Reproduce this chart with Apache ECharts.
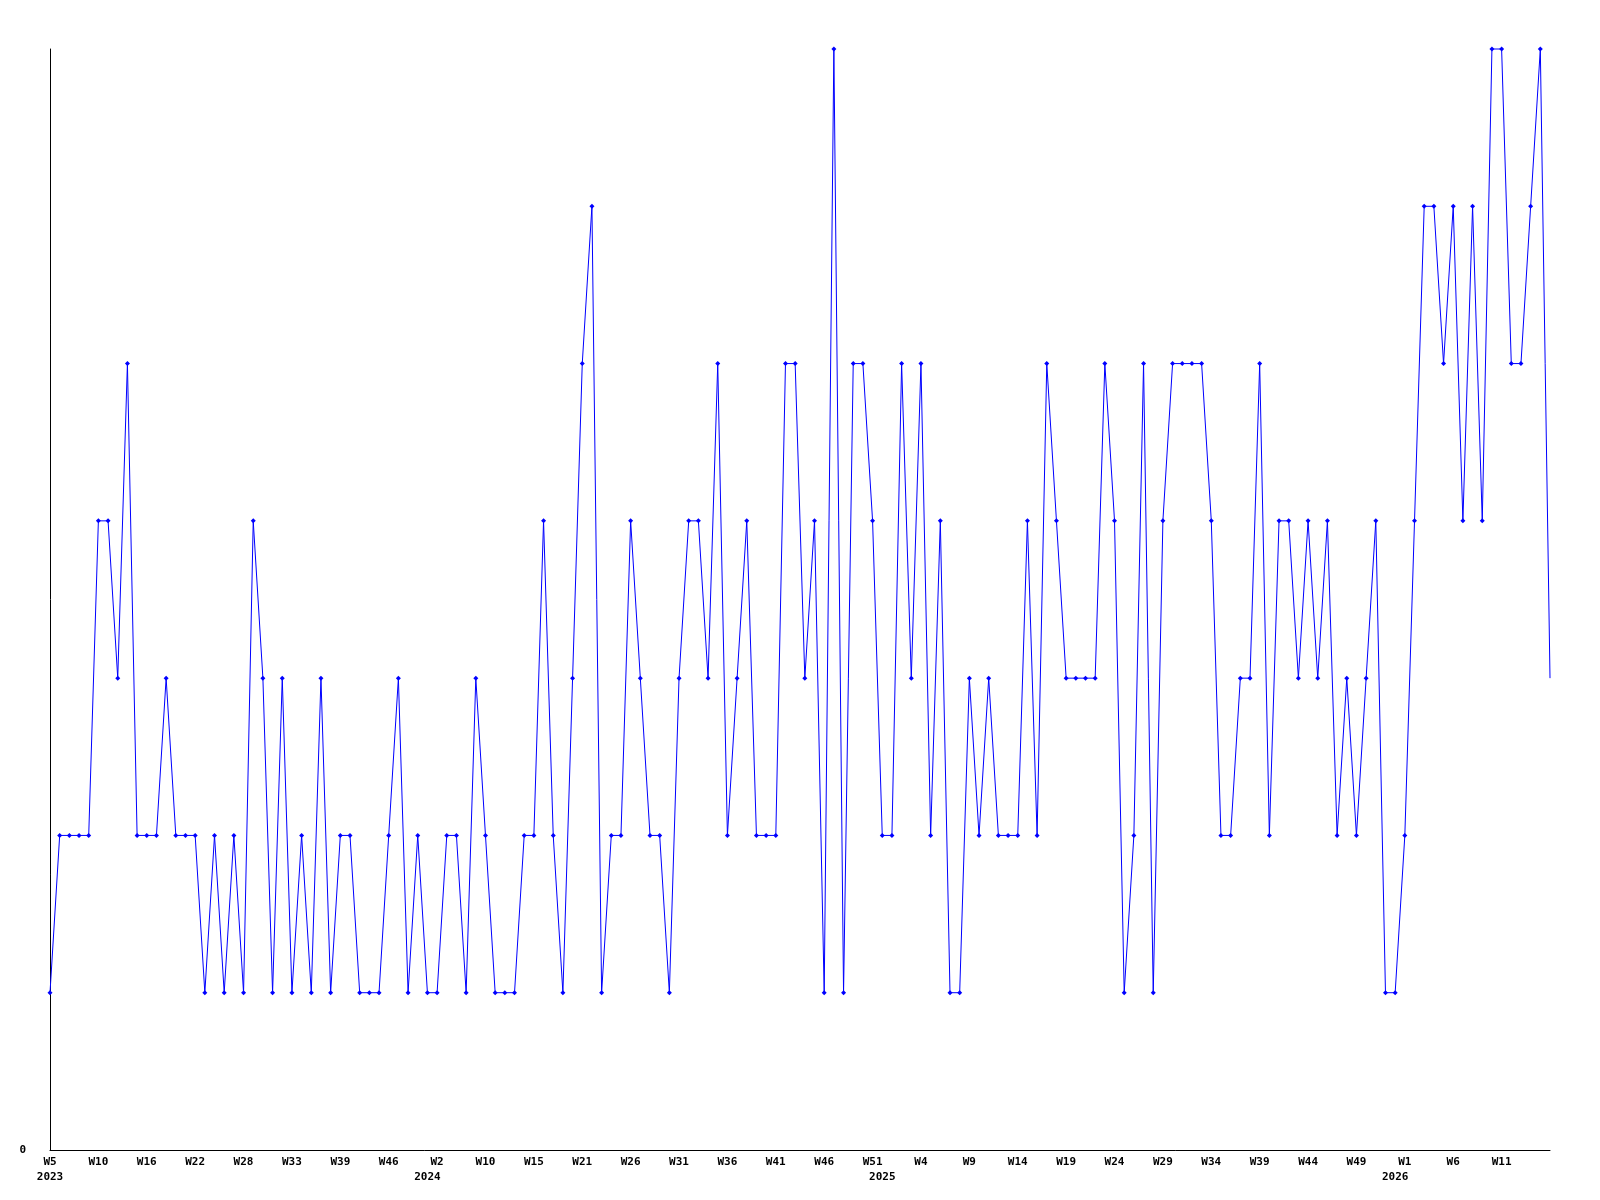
<!DOCTYPE html>
<html>
<head>
<meta charset="utf-8">
<style>
  html, body { margin: 0; padding: 0; background: #ffffff; }
  #chart { width: 1600px; height: 1200px; }
</style>
<script src="https://cdn.jsdelivr.net/npm/echarts@6/dist/echarts.min.js"></script>
</head>
<body>
<div id="chart"></div>
<script>
// Week numbers per year present in the data (some weeks absent)
const weeks2023 = [5,6,7,8,9,10,11,12,13,14,16,17,18,19,20,22,23,24,25,26,28,29,30,31,32,33,34,35,36,37,39,40,41,42,44,46,47,48,50];
const weeks2024 = [1,2,3,5,7,8,10,11,12,13,14,15,16,17,18,20,21,22,23,24,25,26,27,28,29,30,31,32,33,34,35,36,37,38,39,40,41,42,43,44,45,46,47,48,49,50,51];
const weeks2025 = [0,1,2,3,4,5,6,7,8,9,10,11,12,13,14,15,16,17,18,19,20,21,22,23,24,25,26,27,28,29,30,31,32,33,34,35,36,37,38,39,40,41,42,43,44,45,46,47,48,49,50,51,52];
const weeks2026 = [0,1,2,3,4,5,6,7,8,9,10,11,12,13,14,15,16];

// Series values (one per category)
const values = [
  1,2,2,2,2,4,4,3,5,2,
  2,2,3,2,2,2,1,2,1,2,
  1,4,3,1,3,1,2,1,3,1,
  2,2,1,1,1,2,3,1,2,1,
  1,2,2,1,3,2,1,1,1,2,
  2,4,2,1,3,5,6,1,2,2,
  4,3,2,2,1,3,4,4,3,5,
  2,3,4,2,2,2,5,5,3,4,
  1,7,1,5,5,4,2,2,5,3,
  5,2,4,1,1,3,2,3,2,2,
  2,4,2,5,4,3,3,3,3,5,
  4,1,2,5,1,4,5,5,5,5,
  4,2,2,3,3,5,2,4,4,3,
  4,3,4,2,3,2,3,4,1,1,
  2,4,6,6,5,6,4,6,4,7,
  7,5,5,6,7,3
];

// Y tick labels shown
const yTickLabels = ['0'];

// Build categories "YYYY-Www"
const categories = [];
[[2023, weeks2023], [2024, weeks2024], [2025, weeks2025], [2026, weeks2026]].forEach(([y, ws]) => {
  ws.forEach(w => categories.push(y + '-W' + String(w).padStart(2, '0')));
});

function yearOf(i) { return categories[i].slice(0, 4); }
function weekOf(i) { return parseInt(categories[i].slice(6), 10); }
function isYearStart(i) { return i === 0 || yearOf(i) !== yearOf(i - 1); }
function isWeekLabel(i) { return i % 5 === 0 && i < categories.length - 1; }

const seriesData = values.map((v, i) => i === values.length - 1 ? { value: v, symbol: 'none' } : v);

const chart = echarts.init(document.getElementById('chart'), null, { renderer: 'canvas' });
chart.setOption({
  animation: false,
  backgroundColor: '#ffffff',
  grid: { left: 50, right: 50, top: 49, bottom: 50, containLabel: false },
  xAxis: {
    type: 'category',
    data: categories,
    boundaryGap: false,
    axisLine: { show: true, lineStyle: { color: '#000000', width: 1 } },
    axisTick: { show: false },
    splitLine: { show: false },
    axisLabel: {
      interval: (index) => isWeekLabel(index) || isYearStart(index),
      hideOverlap: false,
      margin: 5,
      color: '#000000',
      fontFamily: 'DejaVu Sans Mono',
      fontWeight: 'bold',
      fontSize: 11,
      lineHeight: 15,
      formatter: (value, index) => {
        const top = isWeekLabel(index) ? 'W' + weekOf(index) : '';
        const bottom = isYearStart(index) ? yearOf(index) : '';
        return bottom ? top + '\n' + bottom : top;
      }
    }
  },
  yAxis: {
    type: 'value',
    min: 0,
    max: 7,
    interval: 7,
    axisLine: { show: true, lineStyle: { color: '#000000', width: 1 } },
    axisTick: { show: false },
    splitLine: { show: false },
    axisLabel: {
      margin: 24,
      color: '#000000',
      fontFamily: 'DejaVu Sans Mono',
      fontWeight: 'bold',
      fontSize: 11,
      formatter: (v) => (yTickLabels.indexOf(String(v)) >= 0 ? String(v) : '')
    }
  },
  series: [{
    type: 'line',
    data: seriesData,
    symbol: 'diamond',
    symbolSize: 5,
    showAllSymbol: true,
    clip: false,
    lineStyle: { color: '#0000ff', width: 1 },
    itemStyle: { color: '#0000ff' },
    emphasis: { disabled: true }
  }]
});
</script>
</body>
</html>
